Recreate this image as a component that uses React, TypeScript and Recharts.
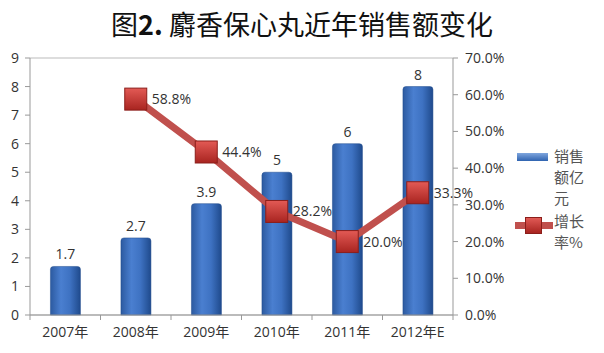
import React from "react";
import { ComposedChart, Bar, Line, XAxis, YAxis, CartesianGrid, LabelList } from "recharts";

const categories = ["2007年", "2008年", "2009年", "2010年", "2011年", "2012年E"];
const sales = [1.7, 2.7, 3.9, 5, 6, 8];
const growth: (number | null)[] = [null, 58.8, 44.4, 28.2, 20.0, 33.3];
const leftTicks = [0, 1, 2, 3, 4, 5, 6, 7, 8, 9];
const rightTicks = [0, 10, 20, 30, 40, 50, 60, 70];

const data = categories.map((c, i) => ({ name: c, sales: sales[i], growth: growth[i] }));

const FONT = "'Open Sans', 'Noto Sans CJK SC', sans-serif";
const TXT = "#333";
const HALF_BAND = 35.25;

const XTick = (props: any) => {
  const { x, y, payload, index } = props;
  return (
    <g>
      <line x1={x - HALF_BAND} y1={y - 8} x2={x - HALF_BAND} y2={y - 3} stroke="#999" />
      {index === categories.length - 1 && (
        <line x1={x + HALF_BAND} y1={y - 8} x2={x + HALF_BAND} y2={y - 3} stroke="#999" />
      )}
      <text x={x} y={y + 14} textAnchor="middle" fill={TXT} fontSize={14} fontFamily={FONT}>
        {payload.value}
      </text>
    </g>
  );
};

const Square = (props: any) => {
  const { cx, cy, value } = props;
  if (value == null || cx == null || cy == null) return null;
  return (
    <rect x={cx - 11} y={cy - 11} width={22} height={22} fill="url(#redGrad)" stroke="#8B1E1A" strokeWidth={1} />
  );
};

const LegendBox = () => (
  <div style={{ position: "absolute", left: 512, top: 145, fontFamily: "'Noto Sans CJK SC', sans-serif", fontSize: 15, color: "#555", lineHeight: "21px", width: 90, height: 110 }}>
    <div style={{ position: "absolute", left: 5, top: 8, width: 31, height: 8, background: "linear-gradient(to bottom, #7FA6DE, #2F63B0)" }} />
    <div style={{ position: "absolute", left: 42, top: 0, width: 40 }}>销售 额亿 元</div>
    <div style={{ position: "absolute", left: 3, top: 77, width: 38, height: 7, background: "#C0504D" }} />
    <div style={{ position: "absolute", left: 13, top: 72, width: 17, height: 17, background: "linear-gradient(to bottom, #E05A55, #A82420)", border: "1px solid #8B1E1A", boxSizing: "border-box" }} />
    <div style={{ position: "absolute", left: 42, top: 65, width: 40 }}>增长 率%</div>
  </div>
);

export default function App() {
  return (
    <div style={{ position: "absolute", left: 0, top: 0, width: 604, height: 353, background: "#fff" }}>
      <div style={{ position: "absolute", left: 0, top: 5, width: 604, textAlign: "center", fontFamily: "'Noto Sans CJK SC', sans-serif", fontSize: 27, color: "#111", lineHeight: "38px" }}>
        图<b>2.</b> 麝香保心丸近年销售额变化
      </div>
      <ComposedChart width={604} height={353} data={data} margin={{ top: 58, right: 81, left: 0, bottom: 0 }} barCategoryGap="29%">
        <defs>
          <linearGradient id="blueGrad" x1="0" y1="0" x2="1" y2="0">
            <stop offset="0%" stopColor="#2C5AA0" />
            <stop offset="35%" stopColor="#4A7FD0" />
            <stop offset="65%" stopColor="#3E72C2" />
            <stop offset="100%" stopColor="#1F4A8C" />
          </linearGradient>
          <linearGradient id="redGrad" x1="0" y1="0" x2="0" y2="1">
            <stop offset="0%" stopColor="#E35A55" />
            <stop offset="100%" stopColor="#A82420" />
          </linearGradient>
        </defs>
        <CartesianGrid vertical={false} stroke="#BBBBBB" />
        <XAxis dataKey="name" height={38} tickLine={false} stroke="#999" tick={<XTick />} interval={0} />
        <YAxis yAxisId="left" width={30} domain={[0, 9]} ticks={leftTicks} interval={0} stroke="#999" tickSize={5}
          tick={{ fill: TXT, fontSize: 14, fontFamily: FONT, dx: -4 }} />
        <YAxis yAxisId="right" orientation="right" width={70} domain={[0, 70]} ticks={rightTicks} interval={0} stroke="#999" tickSize={5}
          tickFormatter={(v: number) => v.toFixed(1) + "%"} tick={{ fill: TXT, fontSize: 14, fontFamily: FONT, dx: 5 }} />
        <Bar yAxisId="left" dataKey="sales" fill="url(#blueGrad)" stroke="#1F4A8C" strokeWidth={0.5} isAnimationActive={false} radius={[3, 3, 0, 0]}>
          <LabelList dataKey="sales" position="top" offset={7} fill={TXT} fontSize={14} fontFamily={FONT} />
        </Bar>
        <Line yAxisId="right" dataKey="growth" stroke="#C0504D" strokeWidth={7} dot={<Square />} activeDot={false} isAnimationActive={false} connectNulls={false}>
          <LabelList dataKey="growth" position="right" offset={16} fill={TXT} fontSize={14} fontFamily={FONT}
            formatter={(v: any) => (v == null ? "" : Number(v).toFixed(1) + "%")} />
        </Line>
      </ComposedChart>
      <LegendBox />
    </div>
  );
}
